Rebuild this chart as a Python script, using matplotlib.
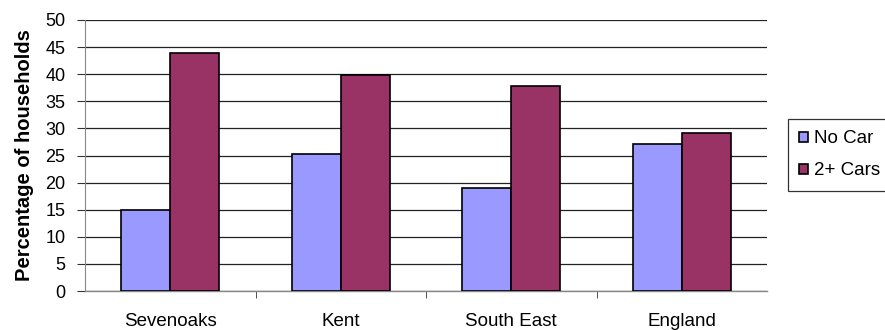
import numpy as np
import matplotlib.pyplot as plt

plt.rcParams['font.family'] = ['Liberation Sans', 'DejaVu Sans']

# Data
areas = ['Sevenoaks', 'Kent', 'South East', 'England']
no_car = [15.0, 25.3, 19.0, 27.1]
two_cars = [44.0, 39.9, 37.8, 29.2]

fig = plt.figure(figsize=(8.85, 3.3), dpi=100)
ax = fig.add_axes([85 / 885, 1 - 291 / 330, 682 / 885, 271 / 330])

x = np.arange(len(areas))
w = 0.287
ax.bar(x - w / 2, no_car, w, color='#9999ff', edgecolor='black', linewidth=1.2,
       label='No Car', zorder=3)
ax.bar(x + w / 2, two_cars, w, color='#993366', edgecolor='black', linewidth=1.2,
       label='2+ Cars', zorder=3)

ax.set_xlim(-0.5, len(areas) - 0.5)
ax.set_ylim(0, 50)
ax.set_yticks(np.arange(0, 51, 5))
ax.set_xticks(x)
ax.set_xticklabels(areas, fontsize=13.5)
ax.set_xticks(np.arange(0.5, len(areas) - 0.5, 1), minor=True)
ax.tick_params(axis='x', which='major', length=0, pad=16)
ax.tick_params(axis='x', which='minor', length=5, color='#333333', direction='out')
ax.tick_params(axis='y', labelsize=13, length=6, color='#333333', pad=8)
ax.grid(axis='y', color='#222222', linewidth=0.9, zorder=0)

for side in ['top', 'right']:
    ax.spines[side].set_visible(False)
ax.spines['left'].set_color('#888888')
ax.spines['bottom'].set_color('#888888')
ax.spines['bottom'].set_linewidth(1.0)

ax.set_ylabel('Percentage of households', fontsize=14.5, fontweight='bold', labelpad=8)

leg = fig.legend(loc='upper left', bbox_to_anchor=(788 / 885, 1 - 119 / 330),
                 fontsize=13.5, frameon=True, fancybox=False, edgecolor='black',
                 handlelength=0.45, handleheight=0.45, handletextpad=0.35,
                 labelspacing=0.8, borderpad=0.6, borderaxespad=0)
leg.get_frame().set_linewidth(0.9)

fig.savefig('out.png', dpi=100)
